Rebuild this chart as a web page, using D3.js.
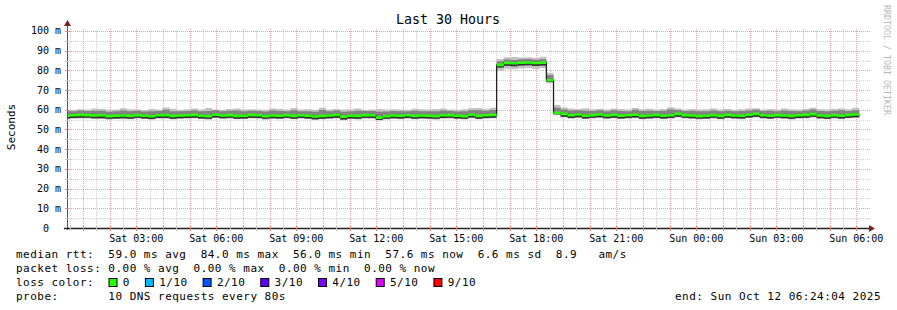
<!DOCTYPE html>
<html lang='en'>
<head>
<meta charset='UTF-8'>
<script src="https://cdnjs.cloudflare.com/ajax/libs/d3/7.8.5/d3.min.js"></script>
<style>
  body { margin: 0; background: #fff; }
  svg { display: block; font-family: 'DejaVu Sans Mono', monospace; }
  text { white-space: pre; }
</style>
<title>Last 30 Hours</title>
</head>
<body>
<svg id='chart'></svg>
<script>
'use strict'

// time frame: 30 hours ending at the "end:" stamp, 960 s consolidated blocks
const endTime = new Date(Date.UTC(2025, 9, 12, 6, 24, 4))
const startTime = new Date(+endTime - 30 * 3600e3)
const firstBlock = new Date(Date.UTC(2025, 9, 11, 0, 14, 44))
const stepSec = 960

// median rtt per block (ms)
const median = [
  57.0, 57.2, 57.4, 57.3, 57.1, 57.2, 56.8, 57.0, 57.1, 56.9,
  57.3, 57.0, 56.7, 57.2, 57.3, 56.9, 57.1, 57.2, 57.4, 57.0,
  56.8, 57.5, 57.1, 57.3, 56.9, 57.0, 57.4, 57.2, 56.8, 57.1,
  57.0, 57.3, 56.9, 57.2, 57.0, 56.6, 56.9, 57.1, 57.4, 56.5,
  57.0, 56.9, 57.3, 57.2, 56.0, 56.8, 57.1, 57.0, 57.2, 56.9,
  57.1, 57.0, 56.8, 57.2, 57.3, 57.0, 56.8, 57.5, 56.9, 57.2,
  57.4, 82.8, 83.8, 83.6, 83.9, 84.0, 83.7, 83.9, 75.0, 58.5,
  57.9, 57.2, 57.6, 57.0, 57.3, 57.6, 57.1, 57.4, 57.0, 57.2,
  57.5, 56.9, 57.1, 57.4, 57.0, 57.2, 57.9, 57.3, 57.1, 56.8,
  57.0, 57.3, 56.9, 57.4, 57.1, 57.0, 57.5, 57.9, 57.2, 57.0,
  57.3, 57.1, 56.9, 57.2, 57.4, 57.8, 57.1, 56.9, 57.3, 57.0,
  57.4, 57.6
]
// smoke: fastest and slowest ping per block
const pingMin = [
  55.3, 55.5, 55.6, 55.6, 55.3, 55.4, 55.0, 55.3, 55.2, 55.2,
  55.5, 55.3, 54.9, 55.5, 55.4, 55.1, 55.4, 55.4, 55.7, 55.3,
  55.0, 55.8, 55.4, 55.5, 55.2, 55.3, 55.6, 55.5, 55.0, 55.4,
  55.3, 55.5, 55.2, 55.4, 55.3, 54.8, 55.2, 55.4, 55.6, 54.7,
  55.3, 55.1, 55.5, 55.5, 54.5, 55.1, 55.4, 55.2, 55.5, 55.2,
  55.4, 55.3, 55.0, 55.5, 55.5, 55.3, 55.1, 55.7, 55.2, 55.4,
  55.7, 79.8, 80.8, 80.6, 81.0, 81.2, 80.7, 81.1, 73.4, 57.2,
  56.1, 55.5, 55.8, 55.3, 55.6, 55.8, 55.4, 55.7, 55.3, 55.5,
  55.8, 55.2, 55.4, 55.6, 55.3, 55.5, 56.1, 55.6, 55.3, 55.1,
  55.3, 55.5, 55.2, 55.7, 55.4, 55.2, 55.8, 56.1, 55.5, 55.3,
  55.6, 55.4, 55.1, 55.5, 55.6, 56.0, 55.4, 55.2, 55.5, 55.3,
  55.7, 55.8
]
const pingMax = [
  60.2, 60.0, 60.3, 60.1, 60.6, 60.4, 60.0, 60.2, 60.8, 60.3,
  60.1, 59.9, 60.4, 60.2, 61.2, 60.5, 60.0, 60.3, 60.6, 60.1,
  60.9, 60.2, 60.0, 60.4, 60.7, 60.1, 60.3, 60.2, 60.0, 60.6,
  60.4, 60.2, 60.9, 60.1, 60.3, 60.0, 61.0, 60.2, 60.4, 60.1,
  60.3, 60.6, 60.0, 60.2, 60.4, 60.1, 60.3, 60.2, 60.0, 60.5,
  60.3, 60.1, 60.4, 60.6, 60.2, 60.0, 60.3, 60.8, 60.9, 60.4,
  61.0, 85.8, 86.6, 86.8, 86.5, 86.7, 86.4, 86.9, 78.8, 62.4,
  61.2, 60.6, 60.4, 60.8, 60.3, 60.5, 60.2, 60.6, 60.4, 60.1,
  60.9, 60.3, 60.5, 60.2, 60.4, 61.3, 60.6, 60.2, 60.4, 60.1,
  60.3, 60.7, 60.2, 60.4, 60.0, 60.3, 60.6, 60.8, 60.2, 60.4,
  60.1, 60.6, 60.3, 60.2, 60.5, 61.0, 60.3, 60.1, 60.4, 60.7,
  60.3, 61.0
]
// smoke: inner pings (3rd and 8th of 10)
const pingLow = [
  55.6, 55.8, 56.0, 55.9, 55.7, 55.7, 55.4, 55.6, 55.7, 55.5,
  55.9, 55.6, 55.3, 55.8, 55.8, 55.5, 55.7, 55.8, 56.0, 55.6,
  55.4, 56.1, 55.7, 55.9, 55.5, 55.6, 56.0, 55.8, 55.4, 55.7,
  55.6, 55.9, 55.5, 55.8, 55.6, 55.2, 55.5, 55.7, 56.0, 55.1,
  55.6, 55.5, 55.9, 55.8, 54.8, 55.4, 55.7, 55.6, 55.8, 55.5,
  55.7, 55.6, 55.4, 55.8, 55.9, 55.6, 55.4, 56.1, 55.5, 55.8,
  56.0, 81.4, 82.3, 82.1, 82.5, 82.6, 82.2, 82.5, 74.1, 57.7,
  56.5, 55.8, 56.2, 55.6, 55.9, 56.2, 55.7, 56.0, 55.6, 55.8,
  56.1, 55.5, 55.7, 56.0, 55.6, 55.8, 56.5, 55.9, 55.7, 55.4,
  55.6, 55.9, 55.5, 56.0, 55.7, 55.6, 56.1, 56.5, 55.8, 55.6,
  55.9, 55.7, 55.5, 55.8, 56.0, 56.4, 55.7, 55.5, 55.9, 55.6,
  56.0, 56.2
]
const pingHigh = [
  59.2, 59.3, 59.6, 59.4, 59.5, 59.5, 59.0, 59.3, 59.6, 59.2,
  59.5, 59.1, 59.2, 59.4, 60.0, 59.3, 59.2, 59.4, 59.6, 59.3,
  59.4, 59.7, 59.2, 59.5, 59.6, 59.2, 59.5, 59.4, 59.1, 59.6,
  59.4, 59.3, 59.7, 59.3, 59.3, 59.0, 59.9, 59.3, 59.6, 59.0,
  59.3, 59.5, 59.4, 59.4, 59.0, 59.1, 59.4, 59.3, 59.2, 59.5,
  59.3, 59.2, 59.3, 59.6, 59.4, 59.1, 59.3, 59.8, 59.7, 59.5,
  59.9, 84.6, 85.5, 85.3, 85.6, 85.8, 85.4, 85.7, 77.6, 61.0,
  60.2, 59.6, 59.7, 59.5, 59.4, 59.7, 59.3, 59.7, 59.4, 59.2,
  60.0, 59.4, 59.5, 59.4, 59.5, 60.1, 59.9, 59.4, 59.5, 59.2,
  59.3, 59.6, 59.3, 59.5, 59.2, 59.4, 59.6, 60.0, 59.4, 59.5,
  59.3, 59.6, 59.4, 59.3, 59.6, 60.2, 59.4, 59.2, 59.5, 59.7,
  59.4, 59.8
]

// axis ticks and legend texts
const yTicks = [0, 10, 20, 30, 40, 50, 60, 70, 80, 90, 100]
const yMinorTicks = [5, 15, 25, 35, 45, 55, 65, 75, 85, 95]
const statLines = [
  'median rtt:  59.0 ms avg  84.0 ms max  56.0 ms min  57.6 ms now  6.6 ms sd  8.9   am/s',
  'packet loss: 0.00 % avg  0.00 % max  0.00 % min  0.00 % now'
]
const lossLabels = ['0', '1/10', '2/10', '3/10', '4/10', '5/10', '9/10']
const lossColors = ['#26ff00', '#00b8ff', '#0059ff', '#5e00ff', '#7e00ff', '#dd00ff', '#ff0000']
const probeText = 'probe:       10 DNS requests every 80s'
const endText = 'end: Sun Oct 12 06:24:04 2025'

const W = 897, H = 310
const plotL = 67, plotR = 867, plotT = 28, plotB = 228

const svg = d3.select('#chart').attr('width', W).attr('height', H)

const x = d3.scaleUtc([startTime, endTime], [plotL, plotR])
const y = d3.scaleLinear([0, 101.5], [plotB, plotT])
const ry = v => Math.round(y(v)) + 0.5
const rx = v => Math.round(x(v)) + 0.5

const minorCol = '#cfcfcf', majorCol = '#f07c7c'

// grid
const grid = svg.append('g').attr('stroke-dasharray', '1,1').attr('stroke-width', 1)
  .attr('shape-rendering', 'crispEdges')
const halfHours = d3.utcMinute.every(30).range(startTime, endTime).filter(d => d.getUTCMinutes() !== 0)
const hours = d3.utcHour.range(startTime, endTime)

grid.selectAll('line.vminor').data(halfHours).join('line').attr('class', 'vminor')
  .attr('x1', rx).attr('x2', rx).attr('y1', plotB).attr('y2', plotT)
  .attr('stroke', minorCol)
grid.selectAll('line.hminor').data(yMinorTicks).join('line').attr('class', 'hminor')
  .attr('x1', plotL).attr('x2', plotR + 3).attr('y1', ry).attr('y2', ry)
  .attr('stroke', minorCol)
grid.selectAll('line.vmajor').data(hours).join('line').attr('class', 'vmajor')
  .attr('x1', rx).attr('x2', rx).attr('y1', plotB).attr('y2', plotT)
  .attr('stroke', majorCol).attr('stroke-opacity', 0.75)
grid.selectAll('line.hmajor').data(yTicks.slice(1)).join('line').attr('class', 'hmajor')
  .attr('x1', plotL).attr('x2', plotR + 3).attr('y1', ry).attr('y2', ry)
  .attr('stroke', majorCol).attr('stroke-opacity', 0.75)

// data
const pts = median.map((m, i) => ({
  t: new Date(+firstBlock + i * stepSec * 1e3),
  med: m, lo: pingMin[i], hi: pingMax[i], lo2: pingLow[i], hi2: pingHigh[i]
}))
pts.push({ ...pts[pts.length - 1], t: new Date(+firstBlock + pts.length * stepSec * 1e3) })

svg.append('clipPath').attr('id', 'plot')
  .append('rect').attr('x', plotL + 1).attr('y', plotT).attr('width', plotR - plotL - 1).attr('height', plotB - plotT)

const g = svg.append('g').attr('clip-path', 'url(#plot)')
const band = (a, b) => d3.area().curve(d3.curveStepAfter)
  .x(d => x(d.t)).y0(d => y(a(d))).y1(d => y(b(d)))

g.append('path').attr('d', band(d => d.lo, d => d.hi)(pts)).attr('fill', '#c2c2c2')
g.append('path').attr('d', band(d => d.lo2, d => d.hi2)(pts)).attr('fill', '#828282')
g.append('path').attr('d', band(d => d.lo2, d => d.med)(pts)).attr('fill', '#333')

g.append('path')
  .attr('d', d3.line().curve(d3.curveStepAfter).x(d => x(d.t)).y(d => y(d.med))(pts))
  .attr('fill', 'none').attr('stroke', '#202020').attr('stroke-width', 1.3)

g.append('path')
  .attr('d', d3.area().curve(d3.curveStepAfter).x(d => x(d.t))
    .y0(d => y(d.med) + 1.3).y1(d => y(d.med) - 1.3)(pts))
  .attr('fill', lossColors[0])

// axes
svg.append('line').attr('x1', plotL + 0.5).attr('x2', plotL + 0.5).attr('y1', plotB + 2).attr('y2', plotT - 4)
  .attr('stroke', '#555')
svg.append('line').attr('x1', plotL - 3).attr('x2', plotR + 3).attr('y1', plotB + 0.5).attr('y2', plotB + 0.5)
  .attr('stroke', '#222').attr('stroke-width', 1.4)

const ticks = svg.append('g').attr('stroke-width', 1)
ticks.selectAll('line.xt1').data(halfHours).join('line').attr('class', 'xt1')
  .attr('x1', rx).attr('x2', rx).attr('y1', plotB - 2).attr('y2', plotB + 3).attr('stroke', '#c8c8c8')
ticks.selectAll('line.xt2').data(hours).join('line').attr('class', 'xt2')
  .attr('x1', rx).attr('x2', rx).attr('y1', plotB - 2).attr('y2', plotB + 3).attr('stroke', '#e88888')
ticks.selectAll('line.yt1').data(yMinorTicks).join('line').attr('class', 'yt1')
  .attr('x1', plotL - 2).attr('x2', plotL + 3).attr('y1', ry).attr('y2', ry).attr('stroke', '#c8c8c8')
ticks.selectAll('line.yt2').data(yTicks.slice(1)).join('line').attr('class', 'yt2')
  .attr('x1', plotL - 2).attr('x2', plotL + 3).attr('y1', ry).attr('y2', ry).attr('stroke', '#e88888')

// arrows
svg.append('path').attr('d', `M${plotL + 0.5},${plotT - 8} L${plotL - 3},${plotT - 2} L${plotL + 4},${plotT - 2} Z`)
  .attr('fill', '#7f1f1f')
svg.append('path').attr('d', `M${plotR + 8},${plotB + 0.5} L${plotR + 2},${plotB - 3} L${plotR + 2},${plotB + 4} Z`)
  .attr('fill', '#7f1f1f')

// tick labels
svg.append('g').attr('font-size', 10).attr('text-anchor', 'end')
  .selectAll('text').data(yTicks).join('text')
  .attr('x', d => d === 0 ? 49 : 61)
  .attr('y', d => y(d)).attr('dy', '0.35em')
  .text(d => d === 0 ? '0' : `${d} m`)

svg.append('g').attr('font-size', 10).attr('text-anchor', 'middle')
  .selectAll('text').data(d3.utcHour.every(3).range(startTime, endTime)).join('text')
  .attr('x', d => x(d)).attr('y', 242)
  .text(d3.utcFormat('%a %H:%M'))

// titles
svg.append('text').attr('x', 448).attr('y', 24).attr('text-anchor', 'middle')
  .attr('font-size', 13.3).text('Last 30 Hours')
svg.append('text').attr('transform', 'translate(15,127) rotate(-90)').attr('text-anchor', 'middle')
  .attr('font-size', 11).text('Seconds')
svg.append('text').attr('transform', 'translate(884,5) rotate(90)')
  .attr('font-size', 8.3).attr('fill', '#b8b8b8').text('RRDTOOL / TOBI OETIKER')

// legend
const leg = svg.append('g').attr('font-size', 11).attr('letter-spacing', 0.48)
const adv = 7.1
leg.selectAll('text.stat').data(statLines).join('text').attr('class', 'stat')
  .attr('x', 16).attr('y', (d, i) => 258 + i * 14).text(d => d)
leg.append('text').attr('x', 16).attr('y', 286).text('loss color:')

let lx = 108.5
lossLabels.forEach((lab, i) => {
  leg.append('rect').attr('x', lx + 0.5).attr('y', 278.5).attr('width', 8).attr('height', 8)
    .attr('fill', lossColors[i]).attr('stroke', '#000')
  leg.append('text').attr('x', lx + 14.3).attr('y', 286).text(lab)
  lx += 14.3 + lab.length * adv + 15
})

leg.append('text').attr('x', 16).attr('y', 300).text(probeText)
leg.append('text').attr('x', 881).attr('y', 300).attr('text-anchor', 'end').text(endText)
</script>
</body>
</html>
